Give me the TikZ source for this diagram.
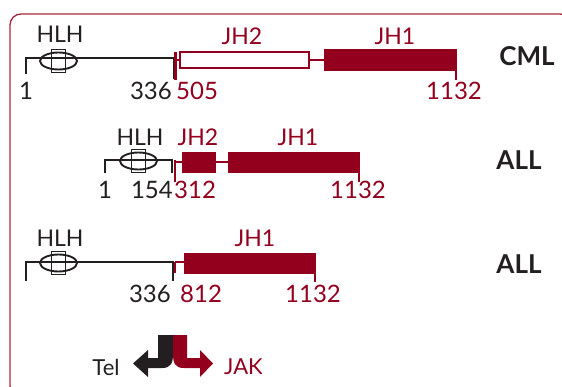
\documentclass[tikz,border=0pt]{standalone}
\usepackage{fontspec}
\setmainfont{Lato}
\usetikzlibrary{shapes.geometric}
\definecolor{jakred}{RGB}{146,0,30}
\definecolor{framered}{RGB}{170,40,60}
\definecolor{ink}{RGB}{35,31,32}
\tikzset{
  lab/.style={font=\fontsize{23}{23}\selectfont, inner sep=0pt, anchor=base},
  num/.style={font=\fontsize{24}{24}\selectfont, inner sep=0pt, anchor=base},
  dis/.style={font=\fontsize{26}{26}\selectfont\bfseries, inner sep=0pt, text=ink},
  blk/.style={draw=ink, line width=2.3pt},
  rd/.style={draw=jakred, line width=2.3pt},
  openbox/.style={draw=jakred, line width=2.3pt, fill=white, inner sep=0pt, outer sep=0pt, anchor=north west},
  fullbox/.style={fill=jakred, draw=jakred, line width=0.5pt, inner sep=0pt, outer sep=0pt, anchor=north west},
  hlhring/.style={ellipse, draw=ink, line width=1.9pt, minimum width=37pt, minimum height=17pt, inner sep=0pt},
  hlhcore/.style={rectangle, draw=ink, line width=1.9pt, minimum width=14pt, minimum height=23pt, inner sep=0pt},
}
\begin{document}
\begin{tikzpicture}[x=1pt, y=-1pt, line join=miter]
\useasboundingbox (0,0) rectangle (562,387);
\begin{scope}
\clip (0,0) rectangle (562,387);
\draw[framered, line width=1.3pt, rounded corners=11pt] (10,14) rectangle (571,397);
\end{scope}

% ---------- CML: HLH ... JH2 (open) ... JH1 ----------
\coordinate (c1s) at (26,58);
\coordinate (c1e) at (174,58);
\draw[blk] ([yshift=-16pt]c1s) -- (c1s) -- (c1e) -- ++(0,21);
\node[hlhring] (c1ring) at (58.5,61) {};
\node[hlhcore] (c1core) at (58.5,61) {};
\node[lab, text=ink] (c1hlh) at (60,43) {HLH};
\node[openbox, minimum width=129pt, minimum height=16pt] (c1jh2) at (180,52) {};
\node[fullbox, minimum width=132pt, minimum height=21pt] (c1jh1) at (324,49) {};
\coordinate (c1r) at (175.5,60);
\draw[rd] ([yshift=8pt]c1r) -- ([yshift=-20pt]c1r);
\draw[rd] (c1r) -- (c1r -| c1jh2.west);
\draw[rd] (c1jh2.east) -- (c1jh2.east -| c1jh1.west);
\draw[rd] (c1jh1.south east) -- ++(0,10);
\node[lab, text=jakred] (c1l2) at (242,45) {JH2};
\node[lab, text=jakred] (c1l1) at (395,45) {JH1};
\node[num, text=ink] (c1n1) at (26,100) {1};
\node[num, text=ink, anchor=base east] (c1n2) at (172,100) {336};
\node[num, text=jakred, anchor=base west] (c1n3) at (176,100) {505};
\node[num, text=jakred] (c1n4) at (454,100) {1132};
\node[dis] (cml) at (527,56.5) {CML};

% ---------- ALL: HLH ... JH2 ... JH1 ----------
\coordinate (c2s) at (105,160);
\coordinate (c2e) at (172,160);
\draw[blk] ([yshift=-13pt]c2s) -- (c2s) -- (c2e) -- ++(0,13);
\node[hlhring] (c2ring) at (138.5,161) {};
\node[hlhcore] (c2core) at (138.5,161) {};
\node[lab, text=ink] (c2hlh) at (140,146) {HLH};
\node[fullbox, minimum width=33pt, minimum height=20pt] (c2jh2) at (182,152) {};
\node[fullbox, minimum width=131pt, minimum height=20pt] (c2jh1) at (228,152) {};
\coordinate (c2r) at (175,162);
\draw[rd] ([yshift=2pt]c2r) -- ([yshift=-20pt]c2r);
\draw[rd] (c2r) -- (c2r -| c2jh2.west);
\draw[rd] (c2jh2.east) -- (c2jh2.east -| c2jh1.west);
\draw[rd] (c2jh1.south east) -- ++(0,10);
\node[lab, text=jakred] (c2l2) at (198,146) {JH2};
\node[lab, text=jakred] (c2l1) at (298,146) {JH1};
\node[num, text=ink] (c2n1) at (105,199) {1};
\node[num, text=ink, anchor=base east] (c2n2) at (173,199) {154};
\node[num, text=jakred, anchor=base west] (c2n3) at (174,199) {312};
\node[num, text=jakred] (c2n4) at (358,199) {1132};
\node[dis] (all1) at (519,160) {ALL};

% ---------- ALL: HLH ... JH1 ----------
\coordinate (c3s) at (26,262);
\coordinate (c3e) at (173,262);
\draw[blk] ([yshift=-19pt]c3s) -- (c3s) -- (c3e) -- ++(0,19);
\node[hlhring] (c3ring) at (58.5,263) {};
\node[hlhcore] (c3core) at (58.5,263) {};
\node[lab, text=ink] (c3hlh) at (60,247) {HLH};
\node[fullbox, minimum width=131pt, minimum height=20pt] (c3jh1) at (184,253) {};
\coordinate (c3r) at (175,262);
\draw[rd] (c3r) -- ([yshift=-11pt]c3r);
\draw[rd] (c3r) -- (c3r -| c3jh1.west);
\draw[rd] (c3jh1.south east) -- ++(0,9);
\node[lab, text=jakred] (c3l1) at (255,247) {JH1};
\node[num, text=ink, anchor=base east] (c3n2) at (171,302) {336};
\node[num, text=jakred, anchor=base west] (c3n3) at (180,302) {812};
\node[num, text=jakred] (c3n4) at (313,302) {1132};
\node[dis] (all2) at (519,264) {ALL};

% ---------- Tel / JAK split arrow ----------
\fill[ink] (158,335) -- (173,335) -- (173,354)
  .. controls (173,363) and (171,368) .. (162,368)
  -- (148,368) -- (148,377) -- (133,363.5) -- (148,350) -- (148,358) -- (158,358) -- cycle;
\fill[jakred] (173,335) -- (187,335) -- (187,358) -- (200,358) -- (200,350)
  -- (213,363.5) -- (200,377) -- (200,368) -- (184,368)
  .. controls (175,368) and (173,363) .. (173,354) -- cycle;
\node[font=\fontsize{22}{22}\selectfont, text=ink, inner sep=0pt] (tel) at (106,367) {Tel};
\node[font=\fontsize{22}{22}\selectfont, text=jakred, inner sep=0pt] (jak) at (243.5,367) {JAK};
\end{tikzpicture}
\end{document}
